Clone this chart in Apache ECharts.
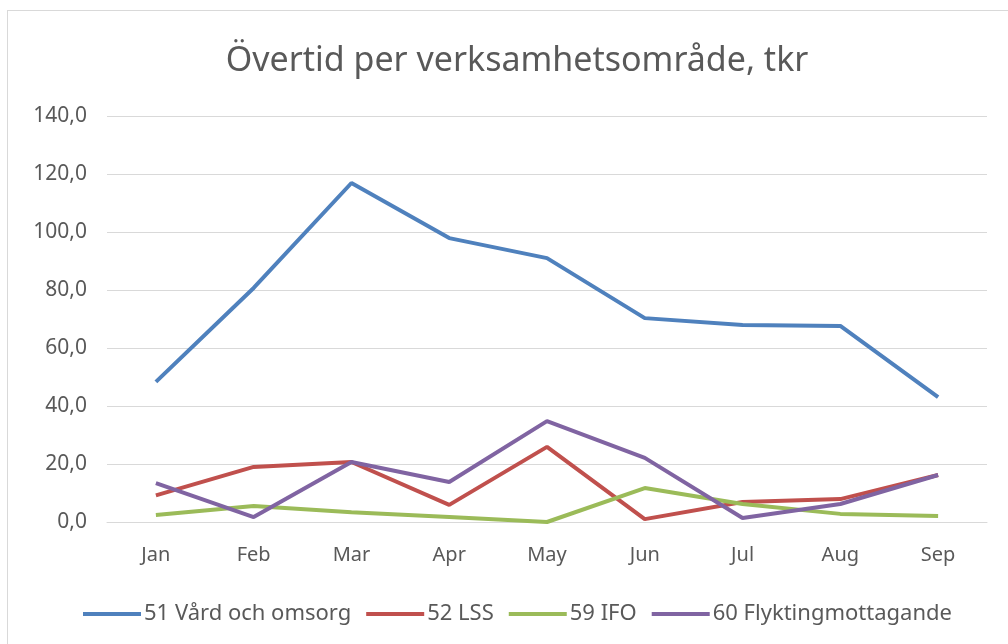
<!DOCTYPE html>
<html>
<head>
<meta charset="utf-8">
<script src="https://cdn.jsdelivr.net/npm/echarts@6/dist/echarts.min.js"></script>
<style>
  html, body { margin: 0; padding: 0; background: #fff; }
  #frame { position: absolute; left: 7px; top: 10px; width: 1100px; height: 700px; border: 1px solid #d9d9d9; box-sizing: border-box; }
  #chart { position: absolute; left: 0; top: 0; width: 1008px; height: 644px; }
</style>
</head>
<body>
<div id="frame"></div>
<div id="chart"></div>
<script>
  const months = ["Jan", "Feb", "Mar", "Apr", "May", "Jun", "Jul", "Aug", "Sep"];
  const vard = [48.3, 80.7, 116.9, 97.9, 91.0, 70.3, 67.9, 67.6, 43.1];
  const lss = [9.2, 19.0, 20.7, 5.9, 25.9, 1.0, 6.9, 7.9, 16.2];
  const ifo = [2.4, 5.5, 3.4, 1.7, 0.0, 11.7, 6.2, 2.8, 2.1];
  const flykting = [13.4, 1.7, 20.7, 13.8, 34.8, 22.1, 1.4, 6.2, 16.2];

  const seriesNames = ["51 Vård och omsorg", "52 LSS", "59 IFO", "60 Flyktingmottagande"];
  const seriesColors = ["#4F81BD", "#C0504D", "#9BBB59", "#8064A2"];
  const seriesData = [vard, lss, ifo, flykting];

  const font = "'Noto Sans', sans-serif";
  const chart = echarts.init(document.getElementById("chart"), null, { renderer: "canvas" });

  chart.setOption({
    animation: false,
    title: {
      text: "Övertid per verksamhetsområde, tkr",
      left: 512,
      textAlign: "center",
      top: 39,
      textStyle: { fontFamily: font, fontSize: 34, fontWeight: "normal", color: "#595959" }
    },
    legend: {
      left: 78,
      top: 598,
      itemWidth: 58,
      itemHeight: 4,
      itemGap: 15,
      icon: "rect",
      textStyle: { fontFamily: font, fontSize: 22, color: "#595959", padding: [0, 0, 0, -2] },
      data: seriesNames
    },
    grid: { left: 107, right: 21, top: 116, bottom: 122 },
    xAxis: {
      type: "category",
      data: months,
      boundaryGap: true,
      axisLine: { lineStyle: { color: "#d9d9d9", width: 1 } },
      axisTick: { show: false },
      axisLabel: { fontFamily: font, fontSize: 20, color: "#595959", margin: 23 }
    },
    yAxis: {
      type: "value",
      min: 0,
      max: 140,
      interval: 20,
      axisLine: { show: false },
      axisTick: { show: false },
      splitLine: { lineStyle: { color: "#d9d9d9", width: 1 } },
      axisLabel: {
        fontFamily: font, fontSize: 21, color: "#595959", margin: 20,
        formatter: (v) => v.toFixed(1).replace(".", ",")
      }
    },
    series: seriesData.map((values, i) => ({
      name: seriesNames[i],
      type: "line",
      data: values,
      showSymbol: false,
      symbol: "none",
      color: seriesColors[i],
      lineStyle: { width: 4, color: seriesColors[i] }
    }))
  });
</script>
</body>
</html>
